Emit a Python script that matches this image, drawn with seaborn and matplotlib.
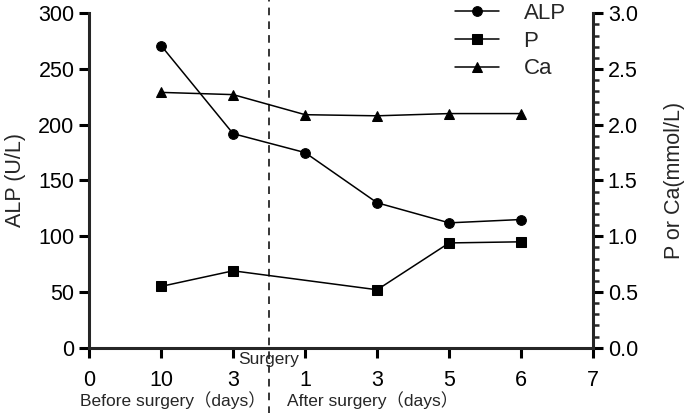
import matplotlib
matplotlib.use("Agg")
import matplotlib.pyplot as plt
import matplotlib.transforms as mtransforms
from matplotlib.ticker import MultipleLocator
import seaborn as sns
import pandas as pd

# data
x_pos = [0, 1, 2, 3, 4, 5, 6, 7]
x_labels = ["0", "10", "3", "1", "3", "5", "6", "7"]

alp_x = [1, 2, 3, 4, 5, 6]
alp = [271, 192, 175, 130, 112, 115]

p_x = [1, 2, 4, 5, 6]
p = [0.55, 0.69, 0.52, 0.94, 0.95]

ca_x = [1, 2, 3, 4, 5, 6]
ca = [2.29, 2.27, 2.09, 2.08, 2.10, 2.10]

surgery_x = 2.5

sns.set_style("ticks")
plt.rcParams["font.family"] = ["Liberation Sans", "Noto Sans CJK SC", "DejaVu Sans"]
plt.rcParams["axes.linewidth"] = 2.2
plt.rcParams["xtick.major.width"] = 2.2
plt.rcParams["ytick.major.width"] = 2.2
plt.rcParams["xtick.major.size"] = 7
plt.rcParams["ytick.major.size"] = 7
plt.rcParams["ytick.minor.width"] = 1.8
plt.rcParams["ytick.minor.size"] = 4

fig = plt.figure(figsize=(6.85, 4.13), dpi=100)
ax = fig.add_axes([0.130, 0.158, 0.736, 0.810])
ax2 = ax.twinx()

df_alp = pd.DataFrame({"x": alp_x, "y": alp})
df_p = pd.DataFrame({"x": p_x, "y": p})
df_ca = pd.DataFrame({"x": ca_x, "y": ca})

line_kw = dict(color="black", linewidth=1.1, markersize=7, markeredgecolor="black")
sns.lineplot(data=df_alp, x="x", y="y", ax=ax, marker="o", label="ALP", legend=False, **line_kw)
sns.lineplot(data=df_p, x="x", y="y", ax=ax2, marker="s", label="P", legend=False, **line_kw)
sns.lineplot(data=df_ca, x="x", y="y", ax=ax2, marker="^", label="Ca", legend=False, **line_kw)

ax.set_xlim(0, 7)
ax.set_ylim(0, 300)
ax2.set_ylim(0, 3.0)
ax.set_xticks(x_pos)
ax.set_xticklabels(x_labels)
ax.set_yticks(range(0, 301, 50))
ax2.set_yticks([0, 0.5, 1.0, 1.5, 2.0, 2.5, 3.0])
ax2.yaxis.set_minor_locator(MultipleLocator(0.1))
ax2.set_yticklabels(["0.0", "0.5", "1.0", "1.5", "2.0", "2.5", "3.0"])

for a in (ax, ax2):
    a.spines["top"].set_visible(False)
    a.tick_params(labelsize=15.5, colors="black")
    a.set_xlabel("")
ax.tick_params(axis="x", pad=9)
ax.spines["right"].set_visible(False)
ax2.spines["left"].set_visible(False)
ax2.spines["bottom"].set_visible(False)

ax.set_ylabel("ALP (U/L)", fontsize=15.5)
ax.yaxis.set_label_coords(-0.125, 0.5)
ax2.set_ylabel("P or Ca(mmol/L)", fontsize=15.5)
ax2.yaxis.set_label_coords(1.141, 0.5)

# surgery marker
ax.axvline(surgery_x, ymin=-0.2, ymax=1.04, color="black", linestyle=(0, (5, 4)),
           linewidth=1.1, clip_on=False)
trans = mtransforms.blended_transform_factory(ax.transData, ax.transAxes)
ax.text(surgery_x, -0.012, "Surgery", transform=trans, ha="center", va="top", fontsize=12.5)

fig.text(0.117, 0.032, "Before surgery（days）", ha="left", va="center", fontsize=12.5)
fig.text(0.419, 0.032, "After surgery（days）", ha="left", va="center", fontsize=12.5)

h1, l1 = ax.get_legend_handles_labels()
h2, l2 = ax2.get_legend_handles_labels()
ax2.legend(h1 + h2, l1 + l2, loc="upper right", bbox_to_anchor=(0.985, 1.09), frameon=False,
           fontsize=16, handlelength=2.0, labelspacing=0.3, handletextpad=1.1)

fig.savefig("out.png", dpi=100)
